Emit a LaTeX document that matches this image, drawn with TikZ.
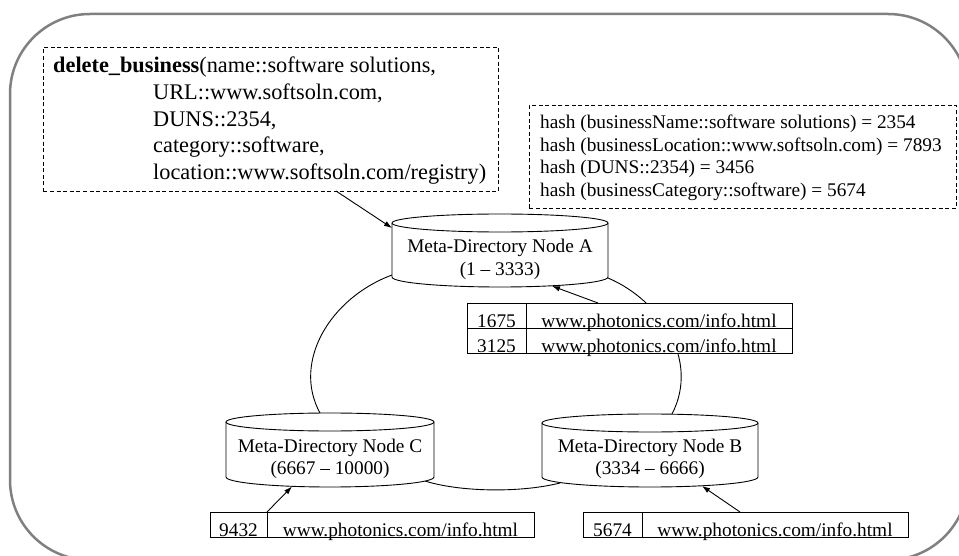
\documentclass[tikz,border=0pt]{standalone}
\usepackage{fontspec}
\setmainfont{Liberation Serif}
\usetikzlibrary{arrows.meta,calc}
\newcommand\mycyl[4]{% left, right, top-ellipse centre y, bottom-ellipse centre y
  \draw[cylline] (#1,#3) -- (#1,#4)
    arc[start angle=180,end angle=0,x radius={(#2-#1)/2},y radius=10]
    -- (#2,#3)
    arc[start angle=0,end angle=-180,x radius={(#2-#1)/2},y radius=9] -- cycle;
  \draw[cylline,fill=none] (#1,#3) arc[start angle=180,end angle=0,x radius={(#2-#1)/2},y radius=9];
}
\begin{document}
\begin{tikzpicture}[x=1pt,y=-1pt,
  frame/.style={draw=black!50,line width=2.5pt},
  dbox/.style={draw,line width=0.9pt,dash pattern=on 4pt off 2.6pt,inner sep=0pt,anchor=north west},
  cylline/.style={draw,line width=0.9pt,fill=white},
  tabbox/.style={draw,line width=0.9pt,fill=white,inner sep=0pt,anchor=north west},
  txt/.style={inner sep=0pt,anchor=base,font=\fontsize{19.3pt}{22.5pt}\selectfont},
  bigtxt/.style={inner sep=0pt,anchor=base west,font=\fontsize{22.3pt}{26.7pt}\selectfont},
  htxt/.style={inner sep=0pt,anchor=base west,font=\fontsize{19.3pt}{22.5pt}\selectfont},
  conn/.style={line width=0.9pt},
  arr/.style={conn,-{Latex[length=8pt,width=5.5pt]}}]
\useasboundingbox (0,0) rectangle (959,556);
\draw[frame,rounded corners=80pt] (10,14) rectangle (968,560);

% call box
\node[dbox,minimum width=455pt,minimum height=144pt] (call) at (43,47) {};
\node[bigtxt] (c1) at (53,73) {\textbf{delete\_business}(name::software solutions,};
\node[bigtxt] (c2) at (153,99.5) {URL::www.softsoln.com,};
\node[bigtxt] (c3) at (153,126.5) {DUNS::2354,};
\node[bigtxt] (c4) at (153,153) {category::software,};
\node[bigtxt] (c5) at (153,180) {location::www.softsoln.com/registry)};

% hash box
\node[dbox,minimum width=427pt,minimum height=103pt] (hash) at (529,105) {};
\node[htxt] (h1) at (540,129) {hash (businessName::software solutions) = 2354};
\node[htxt] (h2) at (540,151.5) {hash (businessLocation::www.softsoln.com) = 7893};
\node[htxt] (h3) at (540,174) {hash (DUNS::2354) = 3456};
\node[htxt] (h4) at (540,196.5) {hash (businessCategory::software) = 5674};

% named connection points
\coordinate (callout) at (336,191);
\coordinate (Ain) at (392,228);
\coordinate (Aleft) at (392,275);
\coordinate (Aright) at (608,278);
\coordinate (Abot) at (552,286);
\coordinate (Ctop) at (320,413);
\coordinate (Cright) at (425,481);
\coordinate (Cbot) at (292,486.5);
\coordinate (Btop) at (672,414);
\coordinate (Bleft) at (560,483);
\coordinate (Bbot) at (702,486);

% ring connectors
\draw[conn] (Aleft) .. controls (330,298) and (292,362) .. (Ctop);
\draw[conn] (Aright) .. controls (660,300) and (700,360) .. (Btop);
\draw[conn] (Cright) .. controls (460,492) and (520,493) .. (Bleft);

% cylinders
\mycyl{392}{608}{223}{277}
\node[draw=none,minimum width=216pt,minimum height=73pt] (A) at (500,250) {};
\node[txt] (A1) at (500,253) {Meta-Directory Node A};
\node[txt] (A2) at (500,275.5) {(1 – 3333)};

\mycyl{226}{434}{422}{477}
\node[draw=none,minimum width=208pt,minimum height=74pt] (C) at (330,450) {};
\node[txt] (C1) at (330,452) {Meta-Directory Node C};
\node[txt] (C2) at (330,474) {(6667 – 10000)};

\mycyl{542}{758}{423}{477}
\node[draw=none,minimum width=216pt,minimum height=73pt] (B) at (650,450) {};
\node[txt] (B1) at (650,452) {Meta-Directory Node B};
\node[txt] (B2) at (650,474.5) {(3334 – 6666)};

% tables
\node[tabbox,minimum width=325pt,minimum height=50pt] (tabA) at (467,303) {};
\draw[conn] (tabA.west) -- (tabA.east);
\draw[conn] ($(tabA.north west)+(59,0)$) coordinate (tabAdiv) -- ($(tabA.south west)+(59,0)$);
\node[txt] (ta1) at (496.5,327) {1675};
\node[txt] (ta2) at (659,327) {www.photonics.com/info.html};
\node[txt] (ta3) at (496.5,352) {3125};
\node[txt] (ta4) at (659,352) {www.photonics.com/info.html};

\node[tabbox,minimum width=324pt,minimum height=25pt] (tabC) at (210,512) {};
\draw[conn] ($(tabC.north west)+(57,0)$) coordinate (tabCdiv) -- ($(tabC.south west)+(57,0)$);
\node[txt] (tc1) at (238.5,536) {9432};
\node[txt] (tc2) at (400.5,536) {www.photonics.com/info.html};

\node[tabbox,minimum width=325pt,minimum height=25pt] (tabB) at (583,512) {};
\draw[conn] ($(tabB.north west)+(59,0)$) coordinate (tabBdiv) -- ($(tabB.south west)+(59,0)$);
\node[txt] (tb1) at (612.5,536) {5674};
\node[txt] (tb2) at (775,536) {www.photonics.com/info.html};

% arrows
\coordinate (tabAout) at (598,303);
\coordinate (tabBout) at (740,512);
\draw[arr] (callout) -- (Ain);
\draw[arr] (tabAout) -- (Abot);
\draw[arr] (tabCdiv) -- (Cbot);
\draw[arr] (tabBout) -- (Bbot);
\end{tikzpicture}
\end{document}
